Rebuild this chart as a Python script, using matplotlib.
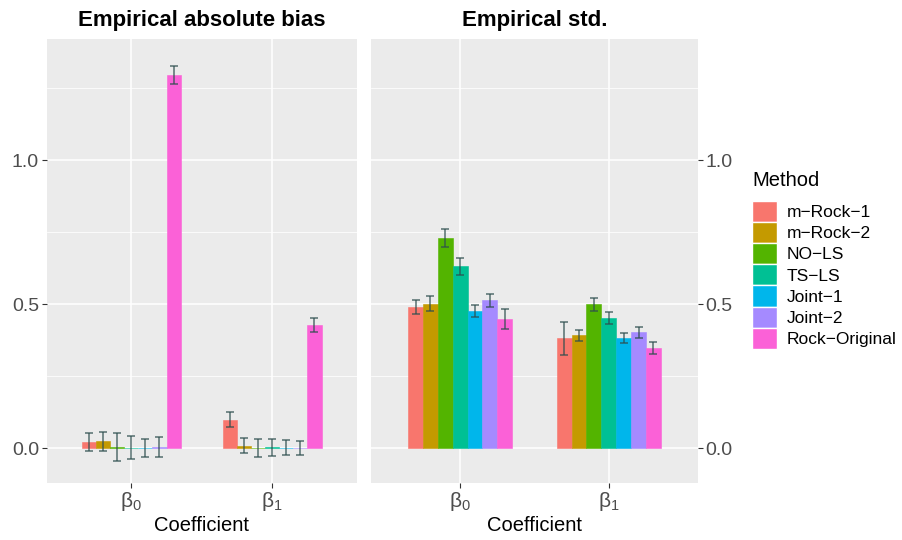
import matplotlib
matplotlib.use("Agg")
import matplotlib.pyplot as plt
import numpy as np
from matplotlib.patches import Patch
from matplotlib.ticker import MultipleLocator

plt.rcParams["font.family"] = ["Liberation Sans", "DejaVu Sans"]
plt.rcParams["mathtext.fontset"] = "custom"
plt.rcParams["mathtext.rm"] = "Liberation Sans"
plt.rcParams["mathtext.it"] = "Liberation Sans"

METHODS = ["m\u2212Rock\u22121", "m\u2212Rock\u22122", "NO\u2212LS", "TS\u2212LS",
           "Joint\u22121", "Joint\u22122", "Rock\u2212Original"]
COLORS = ["#F8766D", "#C49A00", "#53B400", "#00C094", "#00B6EB", "#A58AFF", "#FB61D7"]
COEFS = [r"$\beta_0$", r"$\beta_1$"]

# empirical absolute bias (value, half-width of error bar), per coefficient
bias_b0 = [0.022, 0.024, 0.004, 0.002, 0.002, 0.004, 1.295]
bias_b0_err = [0.032, 0.033, 0.048, 0.040, 0.031, 0.034, 0.030]
bias_b1 = [0.100, 0.010, 0.002, 0.004, 0.002, 0.002, 0.427]
bias_b1_err = [0.026, 0.025, 0.032, 0.030, 0.026, 0.025, 0.024]

# empirical std.
std_b0 = [0.490, 0.502, 0.729, 0.632, 0.476, 0.514, 0.448]
std_b0_err = [0.025, 0.025, 0.032, 0.030, 0.021, 0.022, 0.034]
std_b1 = [0.382, 0.393, 0.500, 0.451, 0.382, 0.403, 0.347]
std_b1_err = [0.057, 0.019, 0.022, 0.021, 0.018, 0.019, 0.021]

BG = "#EBEBEB"
TICK_COL = "#4D4D4D"
BAR_W = 0.1


def draw_panel(ax, vals, errs, title, right=False):
    ax.set_facecolor(BG)
    n = len(METHODS)
    for ci, (v, e) in enumerate(zip(vals, errs)):
        pos = (ci + 1) + (np.arange(n) - (n - 1) / 2) * BAR_W
        ax.bar(pos, v, width=BAR_W, color=COLORS, edgecolor=COLORS, linewidth=0.4, zorder=2)
        ax.errorbar(pos, v, yerr=e, fmt="none", ecolor="#2F4F4F", alpha=0.8,
                    elinewidth=1.1, capsize=2.6, capthick=1.1, zorder=3)
    ax.set_xlim(0.4, 2.6)
    ax.set_ylim(-0.119, 1.42)
    ax.set_xticks([1, 2])
    ax.set_xticklabels(COEFS, fontsize=15, color=TICK_COL)
    ax.yaxis.set_minor_locator(MultipleLocator(0.25))
    ax.set_yticks([0.0, 0.5, 1.0])
    ax.set_yticklabels(["0.0", "0.5", "1.0"], fontsize=14, color=TICK_COL)
    ax.grid(which="major", color="white", lw=1.1, zorder=0)
    ax.grid(which="minor", axis="y", color="white", lw=0.55, zorder=0)
    ax.set_axisbelow(True)
    ax.tick_params(which="major", length=3.5, width=0.8, color="#333333", pad=2)
    ax.tick_params(which="minor", length=0)
    if right:
        ax.yaxis.tick_right()
    for s in ax.spines.values():
        s.set_visible(False)
    ax.set_title(title, fontsize=16, fontweight="bold", pad=9)
    ax.set_xlabel("Coefficient", fontsize=14.5, labelpad=2)


fig = plt.figure(figsize=(9.02, 5.4), dpi=100)
ax_l = fig.add_axes([0.0518, 0.1061, 0.3437, 0.8217])
ax_r = fig.add_axes([0.4113, 0.1061, 0.3625, 0.8217])

draw_panel(ax_l, [bias_b0, bias_b1], [bias_b0_err, bias_b1_err], "Empirical absolute bias")
draw_panel(ax_r, [std_b0, std_b1], [std_b0_err, std_b1_err], "Empirical std.", right=True)

handles = [Patch(facecolor=c, edgecolor="white", lw=1.0, label=m) for m, c in zip(METHODS, COLORS)]
leg = fig.legend(handles=handles, title="Method", loc="upper left",
                 bbox_to_anchor=(0.826, 0.697), frameon=False, fontsize=12.5,
                 title_fontsize=14.5, handlelength=1.45, handleheight=1.5,
                 labelspacing=0.0, handletextpad=0.55, borderaxespad=0)
leg._legend_box.align = "left"
leg._legend_box.sep = 8

fig.savefig("out.png", dpi=100)
